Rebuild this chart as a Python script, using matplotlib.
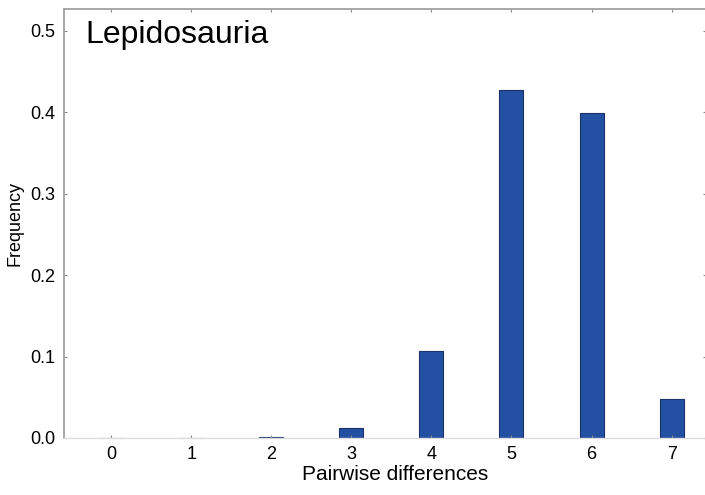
import matplotlib
matplotlib.use("Agg")
import matplotlib.pyplot as plt

categories = [0, 1, 2, 3, 4, 5, 6, 7]
frequency = [0.0, 0.0, 0.001, 0.012, 0.107, 0.428, 0.399, 0.048]
yticks = [0.0, 0.1, 0.2, 0.3, 0.4, 0.5]
ytick_labels = ["0.0", "0.1", "0.2", "0.3", "0.4", "0.5"]

plt.rcParams['font.family'] = ['Liberation Sans', 'DejaVu Sans']

fig = plt.figure(figsize=(7.05, 4.95), dpi=100)
ax = fig.add_axes([64/705, 1 - 438/495, (706-64)/705, (438-9)/495])

ax.bar(categories, frequency, width=0.3, color='#2350a2', edgecolor='#1b2f6b', linewidth=0.8)

ax.set_xlim(-0.59, 7.43)
ax.set_ylim(0, 0.527)
ax.set_xticks(categories)
ax.set_xticklabels([str(c) for c in categories], fontsize=13)
ax.set_yticks(yticks)
ax.set_yticklabels(ytick_labels, fontsize=13)
ax.tick_params(direction='in', length=2, width=0.8, color='#888888', top=True, right=True, pad=6)

ax.set_xlabel("Pairwise differences", fontsize=15)
ax.xaxis.set_label_coords(0.515, -0.062, transform=ax.transAxes)
ax.xaxis.label.set_va('top')
ax.set_ylabel("Frequency", fontsize=13, labelpad=5)

for side in ['left', 'top', 'right']:
    ax.spines[side].set_color('#999999')
    ax.spines[side].set_linewidth(1.2)
ax.spines['bottom'].set_color('#dddddd')
ax.spines['bottom'].set_linewidth(1.0)

ax.text(0.033, 0.975, "Lepidosauria", transform=ax.transAxes, fontsize=23, va='top', ha='left')

fig.savefig("out.png", dpi=100)
